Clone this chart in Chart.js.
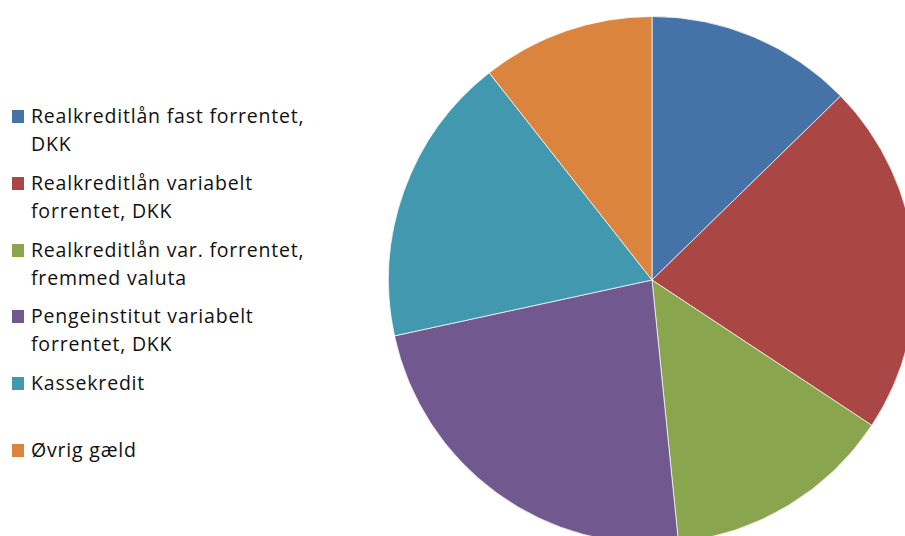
<!doctype html>
<html>
<head>
<meta charset="utf-8">
<title>Gæld fordelt på type</title>
<script src="https://cdn.jsdelivr.net/npm/chart.js@4.4.1/dist/chart.umd.min.js"></script>
<style>
html, body {
	margin: 0;
	padding: 0;
	width: 905px;
	height: 536px;
	overflow: hidden;
	background: #fff;
}
#pieBox {
	position: absolute;
	left: 388px;
	top: 16px;
	width: 528px;
	height: 528px;
}
#legend {
	position: absolute;
	left: 0;
	top: 0;
	font-family: "Open Sans", sans-serif;
	font-size: 19.5px;
	letter-spacing: 0.8px;
	color: #111;
}
.item {
	position: absolute;
	left: 12px;
	width: 340px;
	line-height: 28px;
}
.swatch {
	position: absolute;
	left: 0;
	top: 8px;
	width: 12px;
	height: 13px;
}
.txt {
	position: absolute;
	left: 19px;
	top: 0;
	white-space: nowrap;
}
</style>
</head>
<body>
	<div id="legend"></div>
	<div id="pieBox">
		<canvas id="canvas" width="528" height="528"></canvas>
	</div>

	<script>
		// andele i procent
		var labels = [
			['Realkreditlån fast forrentet,', 'DKK'],
			['Realkreditlån variabelt', 'forrentet, DKK'],
			['Realkreditlån var. forrentet,', 'fremmed valuta'],
			['Pengeinstitut variabelt', 'forrentet, DKK'],
			['Kassekredit'],
			['Øvrig gæld']
		];
		var shares = [12.7, 21.6, 14.1, 23.2, 17.8, 10.6];
		var colors = ['#4572A7', '#AA4643', '#89A54E', '#71588F', '#4198AF', '#DB843D'];

		// legend til venstre, to linjer pr. post
		var legend = document.getElementById('legend');
		labels.forEach(function(lines, i) {
			var item = document.createElement('div');
			item.className = 'item';
			item.style.top = (102 + i * 66.8) + 'px';
			var sw = document.createElement('div');
			sw.className = 'swatch';
			sw.style.background = colors[i];
			var txt = document.createElement('div');
			txt.className = 'txt';
			txt.innerHTML = lines.join('<br>');
			item.appendChild(sw);
			item.appendChild(txt);
			legend.appendChild(item);
		});

		var ctx = document.getElementById('canvas').getContext('2d');
		window.myChart = new Chart(ctx, {
			type: 'pie',
			data: {
				labels: labels.map(function(l) { return l.join(' '); }),
				datasets: [{
					data: shares,
					backgroundColor: colors,
					borderColor: 'rgba(255,255,255,0.7)',
					borderWidth: 1
				}]
			},
			options: {
				responsive: false,
				animation: false,
				layout: { padding: 0 },
				plugins: {
					legend: { display: false },
					tooltip: { enabled: false }
				}
			}
		});
	</script>
</body>
</html>
